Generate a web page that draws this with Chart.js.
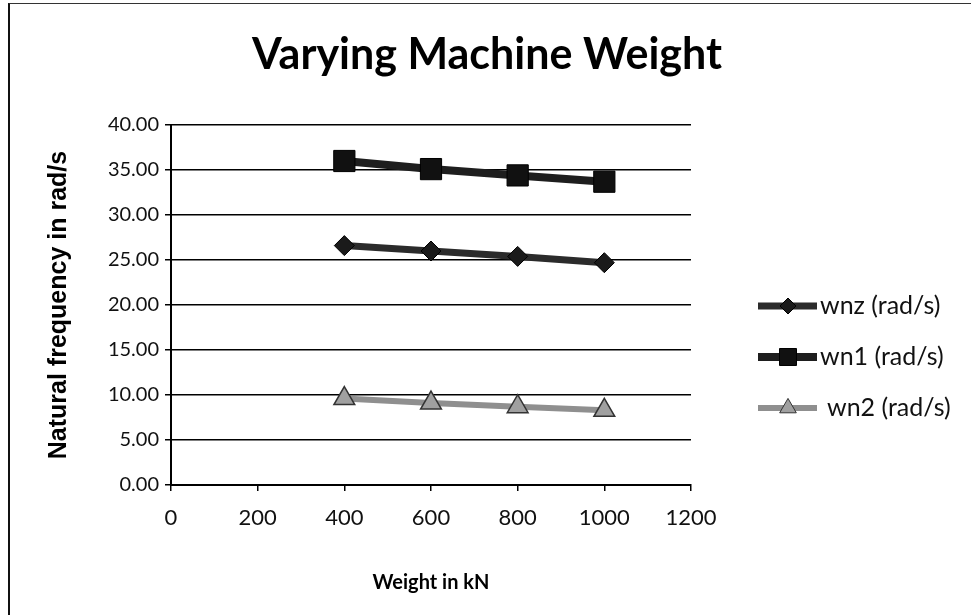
<!DOCTYPE html>
<html>
<head>
<meta charset="utf-8">
<script src="https://cdn.jsdelivr.net/npm/chart.js@4"></script>
<style>
  html, body { margin: 0; padding: 0; background: #fff; }
  #wrap { position: relative; width: 971px; height: 615px; }
  #frame { position: absolute; left: 8px; top: 3px; right: 0; bottom: 0;
           border-left: 2px solid #111; border-top: 1px solid #333; pointer-events: none; }
</style>
</head>
<body>
<div id="wrap">
  <canvas id="c" width="971" height="615"></canvas>
  <div id="frame"></div>
</div>
<script>
// Varying machine weight: natural frequencies vs weight
const weights = [400, 600, 800, 1000];
const wnz = [26.6, 26.0, 25.4, 24.7];
const wn1 = [36.0, 35.1, 34.4, 33.7];
const wn2 = [9.6, 9.1, 8.7, 8.3];
const seriesNames = ['wnz (rad/s)', 'wn1 (rad/s)', 'wn2 (rad/s)'];
const xTicks = [0, 200, 400, 600, 800, 1000, 1200];
const yTicks = [0, 5, 10, 15, 20, 25, 30, 35, 40];

const body = 'Lato, "Open Sans", sans-serif';

const pts = (ys) => weights.map((x, i) => ({ x, y: ys[i] }));

// big title centred on the whole canvas, not just the plot
const pageTitle = {
  id: 'pageTitle',
  afterDraw(chart) {
    const ctx = chart.ctx;
    ctx.save();
    ctx.fillStyle = '#000';
    ctx.font = 'bold 43px ' + body;
    ctx.textAlign = 'center';
    ctx.textBaseline = 'alphabetic';
    ctx.fillText('Varying Machine Weight', 487, 69);
    ctx.restore();
  },
};

// legend drawn to the right, line sample + marker like Excel
const sideLegend = {
  id: 'sideLegend',
  afterDraw(chart) {
    const ctx = chart.ctx;
    const rows = [306, 357, 408];
    const textX = [820, 820, 827];
    const x0 = 758, x1 = 817;
    chart.data.datasets.forEach((ds, i) => {
      const y = rows[i];
      ctx.save();
      ctx.strokeStyle = ds.borderColor;
      ctx.lineWidth = ds.borderWidth;
      ctx.beginPath();
      ctx.moveTo(x0, y);
      ctx.lineTo(x1, y);
      ctx.stroke();
      ctx.fillStyle = ds.pointBackgroundColor;
      ctx.strokeStyle = ds.pointBorderColor;
      ctx.lineWidth = 1;
      Chart.helpers.drawPoint(ctx, {
        pointStyle: ds.pointStyle,
        radius: ds.pointRadius * 0.8,
        borderWidth: 1,
      }, 788, y);
      ctx.fillStyle = '#111';
      ctx.font = '25px ' + body;
      ctx.textBaseline = 'middle';
      ctx.fillText(seriesNames[i], textX[i], y);
      ctx.restore();
    });
  },
};

new Chart(document.getElementById('c'), {
  type: 'line',
  data: {
    datasets: [
      {
        label: seriesNames[0],
        data: pts(wnz),
        borderColor: '#2b2b2b',
        borderWidth: 7,
        pointStyle: 'rectRot',
        pointRadius: 10,
        pointBackgroundColor: '#1a1a1a',
        pointBorderColor: '#000',
        pointBorderWidth: 1,
      },
      {
        label: seriesNames[1],
        data: pts(wn1),
        borderColor: '#1e1e1e',
        borderWidth: 8,
        pointStyle: 'rect',
        pointRadius: 15,
        pointBackgroundColor: '#111',
        pointBorderColor: '#000',
        pointBorderWidth: 1,
      },
      {
        label: seriesNames[2],
        data: pts(wn2),
        borderColor: '#8f8f8f',
        borderWidth: 6,
        pointStyle: 'triangle',
        pointRadius: 12,
        pointBackgroundColor: '#a0a0a0',
        pointBorderColor: '#333',
        pointBorderWidth: 1.5,
      },
    ],
  },
  options: {
    responsive: false,
    animation: false,
    layout: { padding: { top: 125, right: 280, bottom: 16, left: 44 } },
    plugins: {
      legend: { display: false },
      tooltip: { enabled: false },
    },
    scales: {
      x: {
        type: 'linear',
        min: 0, max: 1200,
        afterBuildTicks: (s) => { s.ticks = xTicks.map((v) => ({ value: v })); },
        afterFit: (s) => { s.height = 114; },
        grid: { drawOnChartArea: false, drawTicks: true, tickLength: 6, color: '#000', lineWidth: 1.5 },
        border: { color: '#000', width: 2 },
        ticks: { color: '#111', font: { family: body, size: 22 }, padding: 14, callback: (v) => String(v) },
        title: {
          display: true,
          text: 'Weight in kN',
          color: '#000',
          font: { family: body, size: 20, weight: 'bold' },
          padding: { top: 14 },
        },
      },
      y: {
        min: 0, max: 40,
        afterBuildTicks: (s) => { s.ticks = yTicks.map((v) => ({ value: v })); },
        afterFit: (s) => { s.width = 127; },
        grid: { color: '#000', lineWidth: 1.5, tickLength: 6 },
        border: { color: '#000', width: 2 },
        ticks: { color: '#111', font: { family: body, size: 20 }, padding: 6, callback: (v) => v.toFixed(2) },
        title: {
          display: true,
          text: 'Natural frequency in rad/s',
          color: '#000',
          font: { family: '"Liberation Sans", Arial, sans-serif', size: 25, weight: 'bold' },
          padding: { top: 0, bottom: 0 },
        },
      },
    },
  },
  plugins: [pageTitle, sideLegend],
});
</script>
</body>
</html>
